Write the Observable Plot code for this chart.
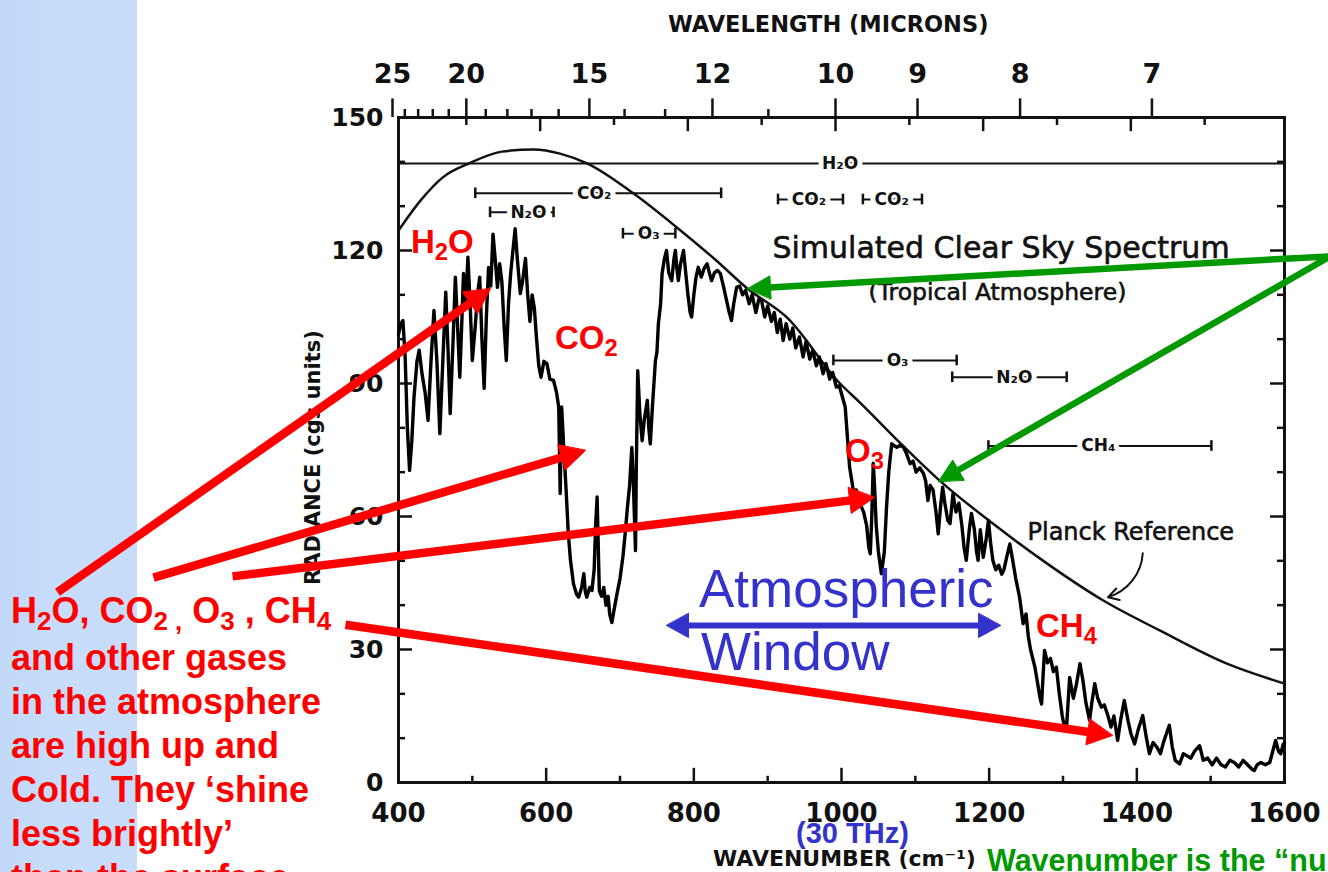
<!DOCTYPE html>
<html>
<head>
<meta charset="utf-8">
<script src="https://cdn.jsdelivr.net/npm/d3@7"></script>
<script src="https://cdn.jsdelivr.net/npm/@observablehq/plot@0.6"></script>
<style>
  html, body { margin: 0; padding: 0; background: #fff; overflow: hidden; }
  #figure { position: relative; width: 1328px; height: 872px; overflow: hidden; }
  #figure svg { position: absolute; left: 0; top: 0; }
  .note { position: absolute; margin: 0; white-space: nowrap; line-height: 1;
          font-family: "Liberation Sans", Arial, sans-serif; }
  .gas { color: #ff0000; font-weight: bold; font-size: 33px; }
  .sub { font-size: 0.72em; position: relative; top: 0.28em; }
  .window { color: #3333cc; font-size: 53px; }
  .thz { color: #3333cc; font-weight: bold; font-size: 29px; }
  .explain { color: #ff0000; font-weight: bold; font-size: 36px; line-height: 44px; }
  .define { color: #009900; font-weight: bold; font-size: 30.5px; }
</style>
</head>
<body>
<div id="figure">
  <div class="note gas" style="left:411px;top:225px">H<span class="sub">2</span>O</div>
  <div class="note gas" style="left:555px;top:321px">CO<span class="sub">2</span></div>
  <div class="note gas" style="left:845px;top:434px">O<span class="sub">3</span></div>
  <div class="note gas" style="left:1036px;top:609px">CH<span class="sub">4</span></div>
  <div class="note window" style="left:699px;top:562px">Atmospheric</div>
  <div class="note window" style="left:701px;top:625px">Window</div>
  <div class="note thz" style="left:796px;top:819px">(30 THz)</div>
  <div class="note explain" style="left:11px;top:589px">H<span class="sub">2</span>O, CO<span class="sub">2 ,</span> O<span class="sub">3</span> , CH<span class="sub">4</span><br>and other gases<br>in the atmosphere<br>are high up and<br>Cold. They ‘shine<br>less brightly’<br>than the surface</div>
  <div class="note define" style="left:987px;top:845px">Wavenumber is the “number of waves per cm”</div>
</div>
<script>
// Simulated clear-sky spectrum, tropical atmosphere: [wavenumber cm⁻¹, radiance cgs]
const spectrumPoints = [
  [400,101],[403,103.5],[406,104.2],[409,96],[412,80],[415,70.4],[418,77],[421,86.9],[425,95],[428,97.5],
  [432,92],[436,88],[440,81.7],[444,95],[448,106.5],[452,95],[456,78.7],[460,95],[464,110.6],[467,98],
  [470,83.2],[474,100],[477,114],[480,103],[483,91.4],[486,105],[488,114.8],[491,108],[494,118.5],[497,108],
  [500,95.2],[504,103],[507,110],[510,114],[513,100],[516,88.9],[519,105],[522,116.2],[525,112],[528,123.7],
  [531,118],[534,111.7],[537,117],[540,113],[543,103],[546,95.2],[549,108],[552,115],[555,120],[558,124.9],
  [561,118],[565,110.3],[568,113],[572,118.2],[575,110],[578,104],[581,110],[584,107],[587,100],[590,94],
  [593,91.4],[597,95],[601,94.5],[605,91],[610,90.7],[614,88],[617,84.7],[619,65.2],[621,84.7],[624,75],
  [627,66],[630,56.1],[633,50],[637,44.8],[641,42.5],[644,41.8],[648,44],[651,47.1],[653,43],[655,41.8],
  [659,44],[662,43.3],[665,48],[667,58],[669,64.4],[671,50],[672,43.3],[675,42],[678,44],[681,40],
  [684,42],[686,38],[689,36.1],[692,39],[696,42.6],[700,46],[704,51],[707,56.1],[710,62],[713,67],
  [716,75.6],[718,68],[721,52.3],[722,70],[724,92.9],[727,83],[730,77.1],[733,82],[737,86.2],[739,80],
  [741,76.4],[744,85],[748,95.2],[750,97],[752,103.5],[755,108],[757,114.8],[760,118],[763,120],[766,115],
  [770,113.2],[773,118],[775,120],[777,116],[779,113.2],[782,117],[786,120],[789,115],[792,110],[795,106],
  [797,105],[800,110],[803,114],[806,116.2],[810,114],[814,116],[818,117],[821,115],[824,113.2],[828,115],
  [832,115.5],[836,114.8],[840,112],[844,109],[848,106],[851,104.2],[854,108],[858,111.7],[862,112],[866,110],
  [870,111],[875,108],[879,110],[884,106],[888,109],[892,108.5],[896,105],[900,107.5],[905,104],[909,106],
  [913,101.5],[917,104.5],[921,99.7],[925,103.5],[930,100],[934,102.5],[938,98],[943,100.5],[948,96],[952,99.5],
  [957,95.5],[961,97.5],[966,94],[970,96],[975,92.2],[979,94.5],[984,91],[988,92.5],[993,89.2],[997,89.5],
  [1002,86.5],[1005,84.7],[1007,80.2],
  [1011,71.1],[1014,68],[1016,65.9],[1020,66],[1025,62.9],[1030,61],[1034,58],[1037,53],[1039,51.6],[1041,60],
  [1043,72],[1045,66],[1047,58],[1050,52],[1054,47.1],[1058,52],[1061,62.1],[1064,70],[1068,76.4],[1071,76],
  [1075,75.6],[1079,76],[1084,75.6],[1088,74.2],[1093,71.9],[1097,72.5],[1101,70],[1106,71],[1111,69.7],[1114,68],
  [1117,63.6],[1120,67],[1124,66],[1128,61],[1131,56.1],[1134,62],[1137,66.6],[1140,63],[1144,59.1],[1147,58.4],
  [1151,65.2],[1155,61],[1159,63],[1163,58],[1166,53],[1169,50.1],[1173,57],[1176,60.7],[1180,57],[1183,52],
  [1185,50.1],[1188,57],[1192,50.8],[1196,55],[1199,59.1],[1202,54],[1205,50.1],[1209,48],[1213,49],[1217,47],
  [1220,48],[1224,51],[1228,53.8],[1232,50],[1236,46],[1241,42],[1246,35.8],[1250,38],[1253,33],[1256,30],
  [1259,28],[1262,26],[1266,22],[1269,19],[1271,17.7],[1273,24],[1275,29.8],[1279,27],[1283,28],[1287,25],
  [1291,26],[1295,20],[1299,15],[1302,12.5],[1305,13],[1309,23.7],[1314,19],[1318,22],[1323,26.8],[1327,23],
  [1331,18],[1336,14],[1339,18],[1343,22.3],[1347,19],[1352,17],[1356,17.5],[1361,15],[1365,12.5],[1369,15],
  [1374,9.5],[1378,14],[1383,18.5],[1388,14],[1392,11],[1397,8.7],[1402,12],[1408,15.1],[1413,10],[1417,6.5],
  [1422,9],[1427,8],[1432,6.5],[1436,9],[1440,11],[1444,12.9],[1448,8],[1452,5],[1458,4.2],[1463,6.5],
  [1468,6],[1473,5.5],[1478,7],[1485,8.3],[1490,5],[1496,5.5],[1502,4],[1508,5.5],[1514,4],[1520,3.5],
  [1526,5],[1532,4.5],[1538,3.5],[1544,5],[1550,4],[1556,3],[1559,2.7],[1563,4],[1568,4.5],[1574,4],
  [1580,4.5],[1584,7],[1588,9.5],[1592,7],[1595,6.5],[1598,8.5],[1600,9]
];

// Planck reference curve, read along its length
const planckPoints = [
  [400,124.5],[430,131.3],[460,136.5],[495,139.6],[540,142.3],[583,142.8],[620,141.8],[656,139.6],
  [718,132.9],[777,125.2],[830,117.8],[872,111.5],[926,104.9],[998,90.0],[1025,85.7],[1080,76.5],
  [1133,68.1],[1205,58.4],[1280,49.2],[1354,41.1],[1431,34.3],[1522,26.8],[1600,22.3]
];

// Absorption band brackets
const bandGas     = ["H₂O", "CO₂", "N₂O", "O₃", "CO₂", "CO₂", "O₃", "N₂O", "CH₄"];
const bandStart   = [400, 504, 524, 704, 914, 1029, 989, 1150, 1199];
const bandEnd     = [1600, 837, 610, 775, 1002, 1109, 1156, 1305, 1501];
const bandLevel   = [139.6, 132.9, 128.6, 123.8, 131.5, 131.5, 95.2, 91.4, 75.9];
const bandLabelAt = [998, 665, 576, 739, 956, 1068, 1076, 1234, 1348];

// Axis ticks
const radianceTicks = [0, 30, 60, 90, 120, 150];
const wavenumberTicks = [400, 600, 800, 1000, 1200, 1400, 1600];
const wavelengthLabels = [25, 20, 15, 12, 10, 9, 8, 7];
const wavelengthMinor = [24, 23, 22, 21, 19, 18, 17, 16, 14, 13, 11];

// Annotation arrows, in chart units (wavenumber, radiance)
const redArrows = [
  {x1: -61.9, y1: 42.9, x2: 524.6, y2: 111.4},
  {x1: 68.2, y1: 46.2, x2: 653.3, y2: 74.9},
  {x1: 175.2, y1: 46.5, x2: 1044.7, y2: 64.3},
  {x1: 328.2, y1: 35.6, x2: 1367.0, y2: 10.6}
];
const greenArrows = [
  {x1: 1662, y1: 118.7, x2: 872.7, y2: 111.4},
  {x1: 1662, y1: 118.7, x2: 1131.4, y2: 67.9}
];
const windowArrow = [{x1: 763, y1: 35.4, x2: 1215.4, y2: 35.4}];
const planckPointer = [{x1: 1408, y1: 51.7, x2: 1361, y2: 41.8}];

const width = 1328, height = 872;
const margin = {top: 117, right: 44, bottom: 90, left: 398};
const xScale = Plot.scale({x: {domain: [400, 1600], range: [margin.left, width - margin.right]}});
const yScale = Plot.scale({y: {domain: [0, 150], range: [height - margin.bottom, margin.top]}});

const bands = bandGas.map((gas, i) => ({
  gas, start: bandStart[i], end: bandEnd[i], level: bandLevel[i], labelAt: bandLabelAt[i]
}));
const bandEnds = bands.slice(1).flatMap(b => [{x: b.start, level: b.level}, {x: b.end, level: b.level}]);

// Filled-head arrows: a straight shaft plus a closed triangular head
function arrowMarks(list, {color, shaftWidth, headLength, headWidth, bothEnds = false}) {
  const shafts = [], heads = [];
  list.forEach((a, i) => {
    const x1 = xScale.apply(a.x1), y1 = yScale.apply(a.y1);
    const x2 = xScale.apply(a.x2), y2 = yScale.apply(a.y2);
    const len = Math.hypot(x2 - x1, y2 - y1);
    const ux = (x2 - x1) / len, uy = (y2 - y1) / len;
    const nx = -uy, ny = ux;
    const head = (tx, ty, s, key) => {
      const bx = tx - s * ux * headLength, by = ty - s * uy * headLength;
      const pts = [[tx, ty], [bx + nx * headWidth / 2, by + ny * headWidth / 2], [bx - nx * headWidth / 2, by - ny * headWidth / 2]];
      for (const [px, py] of pts) heads.push({key, x: xScale.invert(px), y: yScale.invert(py)});
      return [bx + s * ux, by + s * uy];
    };
    const [ex, ey] = head(x2, y2, 1, `${i}-end`);
    let [sx, sy] = [x1, y1];
    if (bothEnds) [sx, sy] = head(x1, y1, -1, `${i}-start`);
    shafts.push({x1: xScale.invert(sx), y1: yScale.invert(sy), x2: xScale.invert(ex), y2: yScale.invert(ey)});
  });
  return [
    Plot.link(shafts, {x1: "x1", y1: "y1", x2: "x2", y2: "y2", stroke: color, strokeWidth: shaftWidth, strokeLinecap: "butt"}),
    Plot.line(heads, {x: "x", y: "y", z: "key", fill: color, stroke: color, strokeWidth: 1, curve: "linear-closed"})
  ];
}

const ink = "#111";
const scanFont = "DejaVu Sans";
const inner = d3.range(500, 1600, 100);
const tens = d3.range(10, 150, 10);

function note(text, x, y, opts = {}) {
  return Plot.text([{text, x, y}], {
    x: "x", y: "y", text: "text", fontFamily: scanFont, fill: ink,
    stroke: ink, strokeWidth: 0.6, paintOrder: "stroke", lineAnchor: "bottom", ...opts
  });
}

const chart = Plot.plot({
  width, height,
  marginTop: margin.top, marginRight: margin.right, marginBottom: margin.bottom, marginLeft: margin.left,
  x: {domain: [400, 1600]},
  y: {domain: [0, 150]},
  style: {
    background: "linear-gradient(to right, #c1d8f9 0px, #c8ddfb 60px, #c6dcfa 137px, #ffffff 137px)",
    overflow: "visible", color: ink
  },
  marks: [
    // bottom axis: inward ticks every 100 cm⁻¹
    Plot.ruleX(inner, {x: d => d, y1: 0, y2: d => d % 200 === 0 ? 3.2 : 1.4, stroke: ink, strokeWidth: 2.5}),
    // top axis: inward wavenumber ticks, outward wavelength ticks
    Plot.ruleX(inner, {x: d => d, y1: 150, y2: d => 150 - (d % 200 === 0 ? 3.2 : 1.8), dx: -6, stroke: ink, strokeWidth: 2.5}),
    Plot.ruleX(wavelengthLabels, {x: l => 1e4 / l, y1: 150, y2: 154.2, dx: -6, stroke: ink, strokeWidth: 2.5}),
    Plot.ruleX(wavelengthMinor, {x: l => 1e4 / l, y1: 150, y2: 151.8, dx: -6, stroke: ink, strokeWidth: 2.5}),
    // left and right axes: inward ticks every 10 units
    Plot.ruleY(tens, {y: d => d, x1: 400, x2: d => 400 + (d % 30 === 0 ? 19 : 9.5), stroke: ink, strokeWidth: 2.5}),
    Plot.ruleY(tens, {y: d => d, x1: 1600, x2: d => 1600 - (d % 30 === 0 ? 19 : 9.5), stroke: ink, strokeWidth: 2.5}),
    Plot.frame({stroke: ink, strokeWidth: 3}),

    Plot.axisY(radianceTicks, {anchor: "left", tickSize: 0, tickPadding: 15, tickFormat: d => String(d),
      fontSize: 25, fontWeight: "bold", fontFamily: scanFont, label: null}),
    Plot.axisX(wavenumberTicks, {anchor: "bottom", tickSize: 0, tickPadding: 21, tickFormat: d => String(d),
      fontSize: 26, fontWeight: "bold", fontFamily: scanFont, label: null}),
    Plot.axisX(wavelengthLabels.map(l => 1e4 / l), {
      anchor: "top", tickSize: 0, tickPadding: 35, dx: -6, tickFormat: d => String(Math.round(1e4 / d)),
      fontSize: 27, fontWeight: "bold", fontFamily: scanFont, label: null
    }),

    // absorption band brackets
    Plot.ruleY(bands, {y: "level", x1: "start", x2: "end", stroke: ink, strokeWidth: 2}),
    Plot.ruleX(bandEnds, {x: "x", y1: d => d.level - 1.2, y2: d => d.level + 1.2, stroke: ink, strokeWidth: 2.5}),
    Plot.text(bands, {
      x: "labelAt", y: "level", text: "gas", fontFamily: scanFont, fontWeight: "bold", fontSize: 17,
      fill: ink, stroke: "white", strokeWidth: 10, paintOrder: "stroke"
    }),

    // Planck reference and the simulated spectrum
    Plot.line(planckPoints, {x: d => d[0], y: d => d[1], curve: "monotone-x", stroke: ink, strokeWidth: 2.5}),
    Plot.line(spectrumPoints, {x: d => d[0], y: d => d[1], stroke: "#000", strokeWidth: 3.4, strokeLinejoin: "round"}),

    // chart captions
    note("WAVELENGTH (MICRONS)", 982, 169.2, {fontSize: 22.5, fontWeight: "bold", textAnchor: "middle", strokeWidth: 0}),
    note("WAVENUMBER (cm⁻¹)", 1004, -18.9, {fontSize: 22, fontWeight: "bold", textAnchor: "middle", strokeWidth: 0}),
    note("Simulated Clear Sky Spectrum", 906.5, 118.2, {fontSize: 30, textAnchor: "start"}),
    note("(Tropical Atmosphere)", 1036.6, 108.9, {fontSize: 23.5, textAnchor: "start"}),
    note("Planck Reference", 1251.9, 54.6, {fontSize: 24, textAnchor: "start"}),
    note("RADIANCE (cgs units)", 284.9, 73.3, {fontSize: 21, fontWeight: "bold", rotate: -90, textAnchor: "middle", lineAnchor: "middle", strokeWidth: 0}),
    Plot.arrow(planckPointer, {x1: "x1", y1: "y1", x2: "x2", y2: "y2", bend: 35, headLength: 9, stroke: ink, strokeWidth: 2}),

    // callout arrows
    ...arrowMarks(windowArrow, {color: "#3333cc", shaftWidth: 6, headLength: 22, headWidth: 24, bothEnds: true}),
    ...arrowMarks(greenArrows, {color: "#009900", shaftWidth: 6.5, headLength: 23, headWidth: 23}),
    ...arrowMarks(redArrows, {color: "#ff0000", shaftWidth: 8.5, headLength: 25, headWidth: 26})
  ]
});

document.getElementById("figure").prepend(chart);
</script>
</body>
</html>
